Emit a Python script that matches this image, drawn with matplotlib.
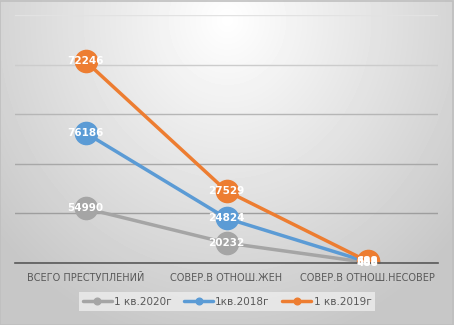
import numpy as np
import matplotlib.pyplot as plt

categories = ['ВСЕГО ПРЕСТУПЛЕНИЙ', 'СОВЕР.В ОТНОШ.ЖЕН', 'СОВЕР.В ОТНОШ.НЕСОВЕР']
series_names = ['1 кв.2020г', '1кв.2018г', '1 кв.2019г']
q1_2020 = [54990, 20232, 488]
q1_2018 = [76186, 24824, 588]
q1_2019 = [72246, 27529, 688]
colors = ['#A5A5A5', '#5B9BD5', '#ED7D31']

fig = plt.figure(figsize=(4.54, 3.25), dpi=100)

# radial gradient background
bg = fig.add_axes([0, 0, 1, 1], zorder=-10)
yy, xx = np.mgrid[0:325, 0:454]
r = np.sqrt(((xx - 227) / 300.0) ** 2 + ((yy - 20) / 330.0) ** 2)
shade = np.clip(1.0 - 0.22 * r, 0.78, 1.0)
bg.imshow(shade, cmap='gray', vmin=0, vmax=1, aspect='auto', extent=[0, 1, 0, 1])
bg.add_patch(plt.Rectangle((0.001, 0.001), 0.997, 0.996, fill=False,
                           edgecolor='#BFBFBF', lw=1.2, transform=bg.transAxes))
bg.axis('off')

ax = fig.add_axes([15 / 454, 62 / 325, 423 / 454, 248 / 325])
ax.patch.set_alpha(0)

# stacked line chart (Excel style): each series sits on the previous ones
data = [q1_2020, q1_2018, q1_2019]
x = np.arange(len(categories))
base = np.zeros(len(categories))
for vals, name, c in zip(data, series_names, colors):
    top = base + np.array(vals)
    ax.plot(x, top, color=c, lw=2.5, marker='o', markersize=16,
            label=name, solid_capstyle='round')
    for xi, yi, v in zip(x, top, vals):
        ax.text(xi, yi, str(v), color='white', fontsize=7.5, fontweight='bold',
                ha='center', va='center')
    base = top

ax.set_xlim(-0.5, 2.5)
ax.set_ylim(0, 250000)
ax.set_yticks(np.arange(0, 250001, 50000))
ax.yaxis.grid(True, lw=1)
ax.set_axisbelow(True)
# gridlines fade towards the bright top of the gradient
grid_cols = ['#9A9A9A', '#9E9E9E', '#A8A8A8', '#B6B6B6', '#CCCCCC', '#E2E2E2']
for gl, gc in zip(ax.get_ygridlines(), grid_cols):
    gl.set_color(gc)
for s in ['top', 'right', 'left']:
    ax.spines[s].set_visible(False)
ax.spines['bottom'].set_color('#595959')
ax.spines['bottom'].set_linewidth(1.2)
ax.set_yticklabels([])
ax.tick_params(axis='y', length=0)
ax.tick_params(axis='x', length=0, pad=7, labelsize=7, labelcolor='#595959')
ax.set_xticks(x)
ax.set_xticklabels(categories)

leg = fig.legend(loc='center', bbox_to_anchor=(0.5, 0.072), ncol=3, fontsize=7.5,
                 frameon=True, fancybox=False, markerscale=0.3, handlelength=2.8,
                 columnspacing=1.2, handletextpad=0.2)
leg.get_frame().set_facecolor('#EDEDED')
leg.get_frame().set_edgecolor('none')
for t in leg.get_texts():
    t.set_color('#595959')

fig.savefig('out.png', dpi=100)
